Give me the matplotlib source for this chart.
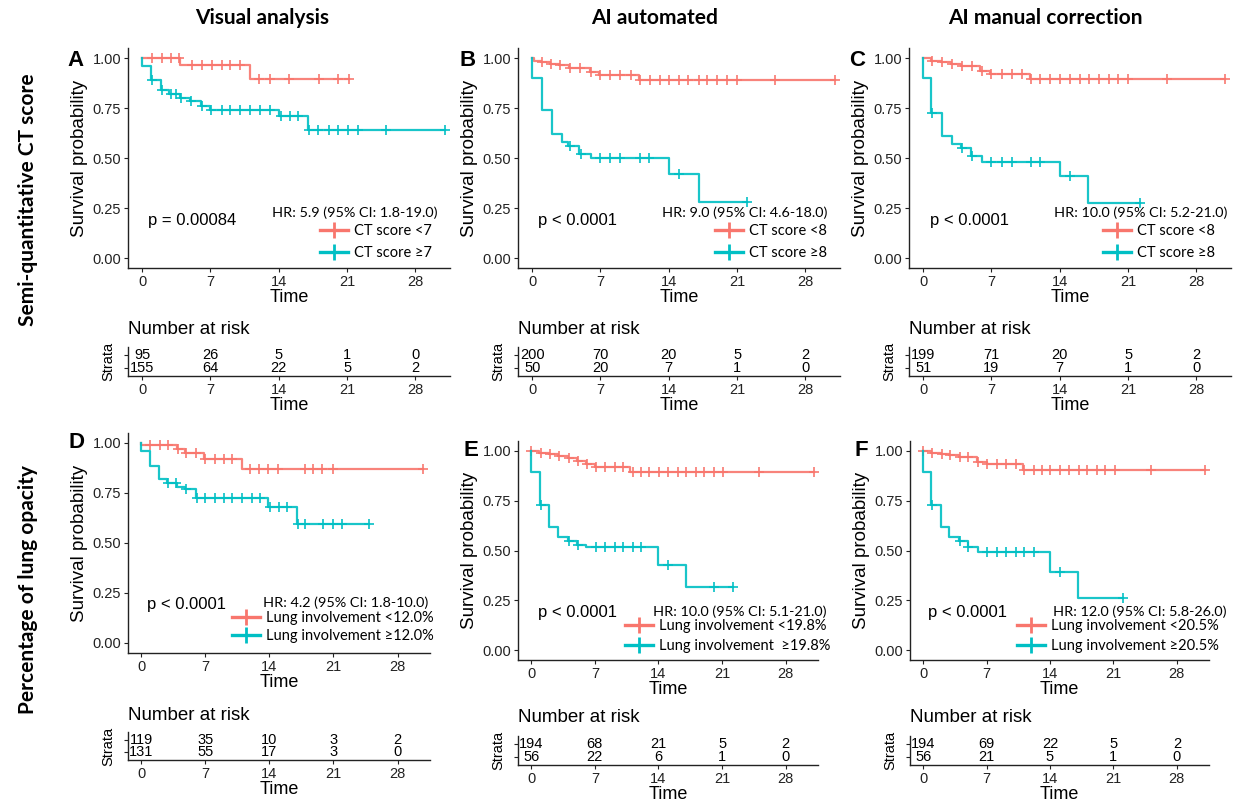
import numpy as np
import matplotlib.pyplot as plt
from matplotlib.lines import Line2D

plt.rcParams['font.family'] = ['Liberation Sans', 'DejaVu Sans']

RED = '#F8766D'
CYAN = '#00BFC4'
W, H = 1239, 809

# ---- data (time in days, survival probability) ----
# A: visual analysis, CT score <7 / >=7
a_lo_t = [3.9, 11.1]
a_lo_s = [0.967, 0.895]
a_lo_c = [1, 2, 3, 3.8, 5.1, 6.1, 7.2, 8.2, 9, 10, 12, 13.1, 15, 18.1, 20.1, 21.2]
a_hi_t = [0, 0.9, 1.9, 2.8, 3.9, 4.9, 6.0, 7.0, 14.0, 17.0]
a_hi_s = [0.962, 0.892, 0.842, 0.82, 0.80, 0.783, 0.758, 0.742, 0.708, 0.642]
a_hi_c = [1, 2, 3, 3.5, 4, 5, 6.1, 7.1, 8.2, 9, 10, 11.1, 12.1, 13.1, 14.2, 15.2, 16,
          17.1, 18, 19.1, 20.1, 21.1, 22.1, 25, 31]

# B: AI automated, CT score <8 / >=8
b_lo_t = [0.2, 0.9, 1.8, 2.8, 3.8, 5.9, 6.8, 10.9]
b_lo_s = [0.987, 0.978, 0.972, 0.965, 0.95, 0.928, 0.917, 0.892]
b_lo_c = [1, 1.9, 2.9, 3.9, 4.9, 6, 7, 8, 9, 10.1, 11.1, 12.1, 13.1, 14, 15, 16, 17.1,
          17.9, 18.9, 20, 21, 24.9, 31]
b_hi_t = [0, 1.0, 2.0, 3.1, 3.7, 4.8, 6.0, 14.0, 17.1]
b_hi_s = [0.90, 0.742, 0.62, 0.58, 0.558, 0.52, 0.50, 0.42, 0.28]
b_hi_c = [3.9, 5.0, 7, 8, 9, 11.1, 12, 15, 22]

# C: AI manual correction, CT score <8 / >=8
c_lo_t = [0.8, 1.8, 2.9, 3.9, 5.8, 6.8, 10.9]
c_lo_s = [0.987, 0.978, 0.97, 0.958, 0.933, 0.92, 0.895]
c_lo_c = [0.9, 1.9, 3.0, 4.0, 5.0, 6.0, 7.0, 8.1, 9.1, 10.1, 11.1, 12.0, 13.0, 14.0, 15.1,
          16.1, 17.0, 18.0, 19.0, 20.0, 21.0, 25.0, 30.9]
c_hi_t = [0, 0.8, 1.9, 3.0, 3.9, 4.9, 6.0, 14.0, 16.9]
c_hi_s = [0.90, 0.725, 0.608, 0.57, 0.55, 0.508, 0.48, 0.41, 0.275]
c_hi_c = [0.9, 4.0, 5.0, 7.0, 8.1, 9.1, 11.1, 12.0, 15.0, 22.2]

# D: visual analysis, lung involvement <12.0% / >=12.0%
d_lo_t = [0, 3.9, 4.8, 6.9, 11.0]
d_lo_s = [0.99, 0.97, 0.95, 0.92, 0.87]
d_lo_c = [0.9, 2.0, 2.9, 4.0, 4.9, 6.0, 7.0, 8.1, 9.0, 9.9, 11.9, 12.9, 13.9, 14.9,
          17.9, 18.8, 19.8, 20.9, 30.8]
d_hi_t = [0, 0.9, 1.9, 2.8, 3.9, 4.8, 6.0, 13.9, 17.0]
d_hi_s = [0.958, 0.883, 0.82, 0.80, 0.78, 0.77, 0.727, 0.682, 0.595]
d_hi_c = [2.9, 3.8, 4.9, 6.1, 7.0, 8.1, 9.0, 9.9, 11.0, 12.1, 13.0, 14.1, 15.0, 15.9,
          17.1, 17.9, 19.9, 20.9, 21.9, 24.9]

# E: AI automated, lung involvement <19.8% / >=19.8%
e_lo_t = [0.9, 2.0, 3.0, 4.0, 5.0, 6.0, 7.0, 10.9]
e_lo_s = [0.99, 0.983, 0.975, 0.963, 0.95, 0.935, 0.918, 0.893]
e_lo_c = [0, 1.1, 2.1, 3.1, 4.2, 5.1, 6.1, 7.1, 8.1, 9.2, 10.1, 11.2, 12.1, 13.0, 14.1,
          15.0, 16.1, 17.0, 18.1, 19.0, 20.1, 21.1, 25.1, 31.1]
e_hi_t = [0, 1.0, 2.0, 3.0, 4.1, 5.0, 6.0, 14.0, 17.0]
e_hi_s = [0.896, 0.73, 0.616, 0.566, 0.55, 0.53, 0.516, 0.427, 0.318]
e_hi_c = [1.1, 4.2, 5.1, 7.1, 8.1, 9.2, 10.1, 11.2, 12.1, 15.0, 20.1, 22.2]

# F: AI manual correction, lung involvement <20.5% / >=20.5%
f_lo_t = [0.9, 2.0, 2.9, 4.0, 5.9, 7.0, 11.0]
f_lo_s = [0.99, 0.983, 0.98, 0.968, 0.946, 0.933, 0.905]
f_lo_c = [0, 1.0, 2.1, 3.0, 4.1, 5.0, 6.1, 7.1, 8.2, 9.1, 10.2, 11.1, 12.2, 13.1, 14.0,
          15.1, 16.1, 17.2, 18.1, 19.2, 20.1, 21.2, 25.1, 31.1]
f_hi_t = [0, 0.9, 2.0, 2.9, 4.0, 4.9, 6.0, 14.0, 17.1]
f_hi_s = [0.896, 0.73, 0.62, 0.566, 0.55, 0.52, 0.49, 0.39, 0.26]
f_hi_c = [1.0, 4.1, 5.0, 7.1, 8.2, 9.1, 10.2, 11.1, 12.2, 15.1, 22.1]

risk_times = [0, 7, 14, 21, 28]
a_risk = [[95, 26, 5, 1, 0], [155, 64, 22, 5, 2]]
b_risk = [[200, 70, 20, 5, 2], [50, 20, 7, 1, 0]]
c_risk = [[199, 71, 20, 5, 2], [51, 19, 7, 1, 0]]
d_risk = [[119, 35, 10, 3, 2], [131, 55, 17, 3, 0]]
e_risk = [[194, 68, 21, 5, 2], [56, 22, 6, 1, 0]]
f_risk = [[194, 69, 22, 5, 2], [56, 21, 5, 1, 0]]

a_labels = ['CT score <7', 'CT score \u22657']
b_labels = ['CT score <8', 'CT score \u22658']
c_labels = ['CT score <8', 'CT score \u22658']
d_labels = ['Lung involvement <12.0%', 'Lung involvement \u226512.0%']
e_labels = ['Lung involvement <19.8%', 'Lung involvement  \u226519.8%']
f_labels = ['Lung involvement <20.5%', 'Lung involvement \u226520.5%']

hr_text = ['HR: 5.9 (95% CI: 1.8-19.0)', 'HR: 9.0 (95% CI: 4.6-18.0)',
           'HR: 10.0 (95% CI: 5.2-21.0)', 'HR: 4.2 (95% CI: 1.8-10.0)',
           'HR: 10.0 (95% CI: 5.1-21.0)', 'HR: 12.0 (95% CI: 5.8-26.0)']
p_text = ['p = 0.00084', 'p < 0.0001', 'p < 0.0001',
          'p < 0.0001', 'p < 0.0001', 'p < 0.0001']
col_titles = ['Visual analysis', 'AI automated', 'AI manual correction']
row_titles = ['Semi-quantitative CT score', 'Percentage of lung opacity']

panels = [
    ('A', (a_lo_t, a_lo_s, a_lo_c), (a_hi_t, a_hi_s, a_hi_c), a_risk, a_labels),
    ('B', (b_lo_t, b_lo_s, b_lo_c), (b_hi_t, b_hi_s, b_hi_c), b_risk, b_labels),
    ('C', (c_lo_t, c_lo_s, c_lo_c), (c_hi_t, c_hi_s, c_hi_c), c_risk, c_labels),
    ('D', (d_lo_t, d_lo_s, d_lo_c), (d_hi_t, d_hi_s, d_hi_c), d_risk, d_labels),
    ('E', (e_lo_t, e_lo_s, e_lo_c), (e_hi_t, e_hi_s, e_hi_c), e_risk, e_labels),
    ('F', (f_lo_t, f_lo_s, f_lo_c), (f_hi_t, f_hi_s, f_hi_c), f_risk, f_labels),
]

# ---- layout in pixels ----
# plot box: left, right, top, bottom
plot_box = [(128, 450, 48, 268), (518, 840, 48, 268), (909, 1231, 48, 268),
            (128, 430, 433, 653), (518, 818, 441, 660), (910, 1209, 441, 660)]
table_box = [(347, 376), (347, 376), (347, 376), (732, 760), (736, 765), (736, 765)]
risk_title_y = [330, 330, 330, 715, 717, 717]
letter_pos = [(76, 60), (468, 60), (857, 60), (76, 443), (471, 451), (861, 451)]
p_pos = [(148, 220), (538, 220), (930, 220), (147, 605), (538, 613), (928, 613)]
# HR text: x, y, alignment
hr_pos = [(437, 213, 'right'), (827, 213, 'right'), (1227, 213, 'right'),
          (263, 603, 'left'), (653, 612, 'left'), (1053, 612, 'left')]
# legend: handle left x, first row centre y, label spacing
leg_pos = [(320, 233, 0.55), (715, 233, 0.55), (1103, 233, 0.55),
           (232, 620, 0.3), (625, 628, 0.4), (1017, 628, 0.4)]


def box(l, r, t, b):
    return [l / W, 1 - b / H, (r - l) / W, (b - t) / H]


def km_xy(t, s, c):
    end = max(max(c), max(t))
    x = np.concatenate([[0], t, [end]])
    y = np.concatenate([[1.0], s, [s[-1]]])
    return x, y


def surv_at(t, s, c):
    tt = np.concatenate([[0], t])
    ss = np.concatenate([[1.0], s])
    idx = np.searchsorted(tt, c, side='right') - 1
    return ss[idx]


fig = plt.figure(figsize=(W / 100, H / 100), dpi=100)
XLIM = (-1.45, 31.55)

for i, (letter, lo, hi, risk, labels) in enumerate(panels):
    l, r, t, b = plot_box[i]
    ax = fig.add_axes(box(l, r, t, b))
    for (tt, ss, cc), col in ((lo, RED), (hi, CYAN)):
        x, y = km_xy(tt, ss, cc)
        ax.plot(x, y, drawstyle='steps-post', color=col, lw=1.6, alpha=0.9)
        ax.plot(cc, surv_at(tt, ss, cc), ls='none', marker='+', ms=7.5, mew=1.3,
                color=col, alpha=0.9)
    ax.set_xlim(*XLIM)
    ax.set_ylim(-0.05, 1.05)
    ax.set_xticks(risk_times)
    ax.set_yticks([0, 0.25, 0.5, 0.75, 1.0])
    ax.set_yticklabels(['0.00', '0.25', '0.50', '0.75', '1.00'])
    for s in ('top', 'right'):
        ax.spines[s].set_visible(False)
    for s in ('left', 'bottom'):
        ax.spines[s].set_linewidth(1.0)
        ax.spines[s].set_color('#222222')
    ax.tick_params(labelsize=10.5, length=3, pad=2, colors='#222222')
    ax.set_xlabel('Time', fontsize=13, labelpad=0)
    ax.set_ylabel('Survival probability', fontsize=13.5, labelpad=3)

    handles = [Line2D([0], [0], color=RED, lw=2.4, marker='+', ms=12, mew=2),
               Line2D([0], [0], color=CYAN, lw=2.4, marker='+', ms=12, mew=2)]
    hx, hy, ls = leg_pos[i]
    ax.legend(handles, labels, loc='upper left', bbox_to_anchor=(hx / W, 1 - (hy - 9) / H),
              bbox_transform=fig.transFigure, frameon=False, borderpad=0, borderaxespad=0,
              handlelength=1.9, handletextpad=0.45, labelspacing=ls,
              prop={'family': ['Lato', 'DejaVu Sans'], 'size': 10.5})
    tx, ty, ha = hr_pos[i]
    fig.text(tx / W, 1 - ty / H, hr_text[i], ha=ha, va='center', fontsize=10.4,
             family=['Lato', 'DejaVu Sans'])
    px_, py_ = p_pos[i]
    fig.text(px_ / W, 1 - py_ / H, p_text[i], ha='left', va='center', fontsize=12)
    lx, ly = letter_pos[i]
    fig.text(lx / W, 1 - ly / H, letter, ha='center', va='center', fontsize=16,
             fontweight='bold')

    # number at risk table
    tt_, tb_ = table_box[i]
    tax = fig.add_axes(box(l, r, tt_, tb_))
    for row, vals in enumerate(risk):
        for xt, n in zip(risk_times, vals):
            tax.text(xt, 2 - row, str(n), ha='center', va='center', fontsize=10.5)
    tax.set_xlim(*XLIM)
    tax.set_ylim(0.4, 2.6)
    tax.set_xticks(risk_times)
    tax.set_yticks([1, 2])
    tax.set_yticklabels(['', ''])
    for s in ('top', 'right'):
        tax.spines[s].set_visible(False)
    for s in ('left', 'bottom'):
        tax.spines[s].set_linewidth(1.0)
        tax.spines[s].set_color('#222222')
    tax.tick_params(labelsize=10.5, length=3, pad=2, colors='#222222')
    tax.set_xlabel('Time', fontsize=13, labelpad=0)
    tax.set_ylabel('Strata', fontsize=10.5, labelpad=4)
    fig.text(l / W, 1 - risk_title_y[i] / H, 'Number at risk', ha='left', va='center',
             fontsize=13.5)

for x, title in zip([262, 655, 1045], col_titles):
    fig.text(x / W, 1 - 18 / H, title, ha='center', va='center', fontsize=15,
             fontweight='bold', family=['Lato', 'DejaVu Sans'])
for y, title in zip([200, 590], row_titles):
    fig.text(28 / W, 1 - y / H, title, ha='center', va='center', fontsize=15,
             fontweight='bold', rotation=90, family=['Lato', 'DejaVu Sans'])

fig.savefig('out.png', dpi=100)
